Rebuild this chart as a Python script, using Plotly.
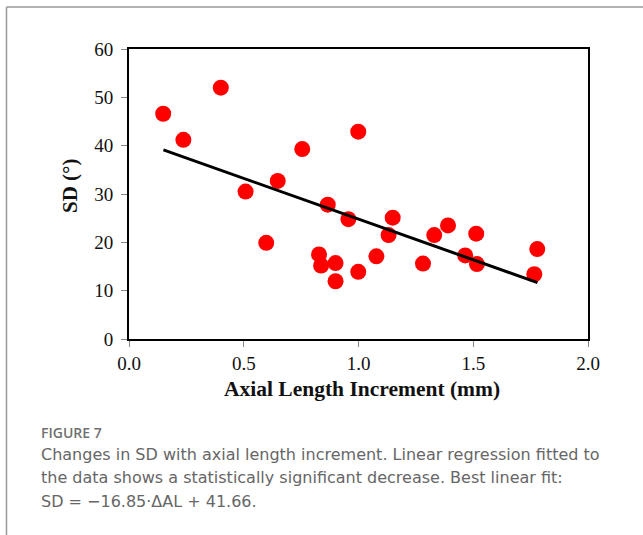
import plotly.graph_objects as go

# Data
al_increment = [0.149, 0.40, 0.237, 0.755, 0.648, 0.508, 0.866, 0.956, 0.598, 0.828,
                0.837, 0.90, 0.90, 0.999, 0.999, 1.149, 1.131, 1.078, 1.281, 1.330,
                1.390, 1.513, 1.465, 1.516, 1.779, 1.766]
sd_values = [46.6, 52.0, 41.2, 39.3, 32.7, 30.5, 27.8, 24.8, 19.9, 17.5,
             15.2, 15.7, 11.95, 13.9, 42.9, 25.1, 21.5, 17.1, 15.6, 21.5,
             23.5, 21.8, 17.3, 15.5, 18.6, 13.4]
fit_x = [0.15, 1.78]
fit_y = [39.13, 11.67]

x_ticks = [0.0, 0.5, 1.0, 1.5, 2.0]
y_ticks = [0, 10, 20, 30, 40, 50, 60]

caption_label = "FIGURE 7"
caption_lines = [
    "Changes in SD with axial length increment. Linear regression fitted to",
    "the data shows a statistically significant decrease. Best linear fit:",
    "SD = \u221216.85\u00b7\u0394AL + 41.66.",
]

W, H = 643, 535
L, R, T, B = 129, 55, 49, 196
pw, ph = W - L - R, H - T - B


def px(x):
    return (x - L) / pw


def py(y):
    return (H - B - y) / ph


fig = go.Figure()
fig.add_trace(go.Scatter(
    x=al_increment, y=sd_values, mode="markers",
    marker=dict(color="#ff0000", size=16, line=dict(width=0)),
    showlegend=False, hoverinfo="skip",
))
fig.add_trace(go.Scatter(
    x=fit_x, y=fit_y, mode="lines",
    line=dict(color="#000000", width=3),
    showlegend=False, hoverinfo="skip",
))

serif = "Liberation Serif, Times New Roman, serif"
axis_common = dict(
    showline=True, linecolor="#000000", linewidth=2, mirror=True,
    ticks="outside", tickcolor="#888888", ticklen=6, tickwidth=1,
    showgrid=False, zeroline=False,
    tickfont=dict(family=serif, size=19, color="#111111"),
)

fig.update_layout(
    width=W, height=H,
    margin=dict(l=L, r=R, t=T, b=B, autoexpand=False),
    paper_bgcolor="white", plot_bgcolor="white",
    xaxis=dict(range=[0, 2], tickvals=x_ticks,
               ticktext=[f"{v:.1f}" for v in x_ticks], **axis_common),
    yaxis=dict(range=[0, 60], tickvals=y_ticks, ticklabelstandoff=4,
               ticktext=[str(v) for v in y_ticks], **axis_common),
    showlegend=False,
)

annotations = [
    dict(text="<b>Axial Length Increment (mm)</b>", x=px(362), y=py(389),
         xref="paper", yref="paper", showarrow=False, xanchor="center", yanchor="middle",
         font=dict(family=serif, size=21.5, color="#111111")),
    dict(text="<b>SD (\u00b0)</b>", x=px(70), y=py(186),
         xref="paper", yref="paper", showarrow=False, xanchor="center", yanchor="middle",
         textangle=-90, font=dict(family=serif, size=21, color="#111111")),
    dict(text=caption_label, x=px(39), y=py(432),
         xref="paper", yref="paper", showarrow=False, xanchor="left", yanchor="middle",
         font=dict(family="Open Sans, sans-serif", size=14, color="#707070", weight=600)),
]
for i, line in enumerate(caption_lines):
    annotations.append(dict(
        text=line, x=px(39), y=py(454 + i * 23.5),
        xref="paper", yref="paper", showarrow=False, xanchor="left", yanchor="middle",
        font=dict(family="DejaVu Sans, sans-serif", size=16, color="#666666")))
fig.update_layout(annotations=annotations)

# Gray page frame (left and top lines)
fig.add_shape(type="line", xref="paper", yref="paper",
              x0=px(6.5), x1=px(6.5), y0=py(7), y1=py(H + 5),
              line=dict(color="#999999", width=1.5))
fig.add_shape(type="line", xref="paper", yref="paper",
              x0=px(6.5), x1=px(W + 5), y0=py(7), y1=py(7),
              line=dict(color="#999999", width=1.5))

fig.write_html(
    "out.html",
    config={"displayModeBar": False},
    post_script="document.body.style.margin='0';document.body.style.overflow='hidden';",
)
